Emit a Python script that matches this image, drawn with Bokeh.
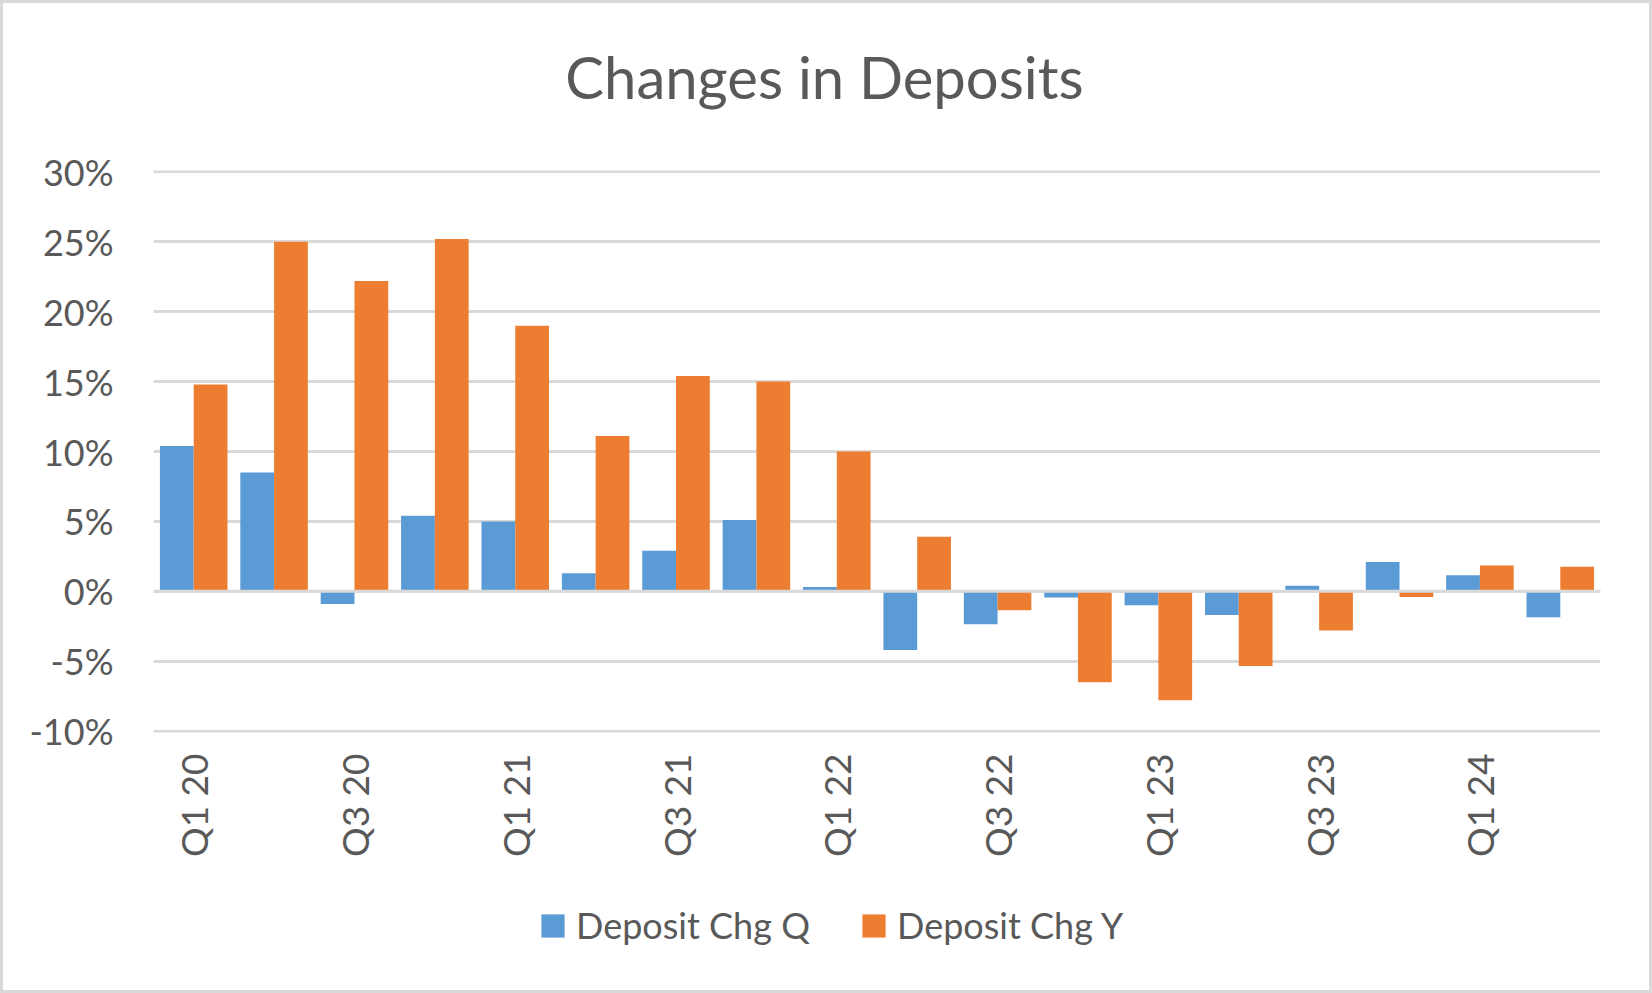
from bokeh.plotting import figure
from bokeh.models import (ColumnDataSource, Range1d, FixedTicker,
                          PrintfTickFormatter, Legend, LegendItem, Span, Label)
from bokeh.layouts import column
from bokeh.transform import dodge
from bokeh.embed import file_html
from bokeh.resources import INLINE
import math

# ---- data ----
quarters = ["Q1 20", "Q2 20", "Q3 20", "Q4 20", "Q1 21", "Q2 21", "Q3 21", "Q4 21",
            "Q1 22", "Q2 22", "Q3 22", "Q4 22", "Q1 23", "Q2 23", "Q3 23", "Q4 23",
            "Q1 24", "Q2 24"]
deposit_chg_q = [10.4, 8.5, -0.9, 5.4, 5.0, 1.3, 2.9, 5.1, 0.3, -4.2, -2.35, -0.45,
                 -1.0, -1.7, 0.4, 2.1, 1.15, -1.85]
deposit_chg_y = [14.8, 25.0, 22.2, 25.2, 19.0, 11.1, 15.4, 15.0, 10.0, 3.9, -1.35, -6.5,
                 -7.8, -5.35, -2.8, -0.4, 1.85, 1.75]
shown_labels = quarters[::2]
y_ticks = [-10, -5, 0, 5, 10, 15, 20, 25, 30]
title_text = "Changes in Deposits"
series_names = ["Deposit Chg Q", "Deposit Chg Y"]

BLUE = "#5B9BD5"
ORANGE = "#ED7D31"
TEXT = "#595959"
GRID = "#D9D9D9"
FONT = "Lato"
W = 1652

idx = list(range(len(quarters)))
src = ColumnDataSource(dict(i=idx, q=quarters, cq=deposit_chg_q, cy=deposit_chg_y))


def blank_figure(height):
    f = figure(width=W, height=height, x_range=Range1d(-0.5, len(quarters) - 0.5),
               y_range=Range1d(1000, 1001), output_backend="svg",
               toolbar_location=None, x_axis_location=None, y_axis_location=None,
               min_border=0)
    f.outline_line_color = None
    f.grid.visible = False
    f.border_fill_color = None
    f.background_fill_color = None
    return f


SIDE = "inset -3px 0 0 0 #D9D9D9"

# ---- title strip ----
TITLE_H = 146
t = blank_figure(TITLE_H)
t.styles = {"box-shadow": "inset 3px 3px 0 0 #D9D9D9, " + SIDE}
t.add_layout(Label(x=671, y=TITLE_H - 97 + 21, x_units="screen", y_units="screen",
                   text=title_text, text_align="center", text_baseline="alphabetic",
                   text_font=FONT, text_font_size="58px", text_color=TEXT))

# ---- main chart ----
MAIN_H = 734
p = figure(x_range=Range1d(-0.5, len(quarters) - 0.5), y_range=Range1d(-10.1, 30.1),
           width=W, height=MAIN_H, output_backend="svg", toolbar_location=None,
           min_border_left=153, min_border_right=52, min_border_top=24,
           min_border_bottom=148)
p.outline_line_color = None
p.border_fill_color = None
p.background_fill_color = "white"
p.styles = {"box-shadow": "inset 3px 0 0 0 #D9D9D9, " + SIDE}

r1 = p.vbar(x=dodge("i", -0.21), top="cq", bottom=0, width=0.42,
            source=src, fill_color=BLUE, line_color=None)
r2 = p.vbar(x=dodge("i", 0.21), top="cy", bottom=0, width=0.42,
            source=src, fill_color=ORANGE, line_color=None)

p.add_layout(Span(location=0, dimension="width", line_color=GRID, line_width=3,
                  level="overlay"))

p.xgrid.visible = False
p.ygrid.grid_line_color = GRID
p.ygrid.grid_line_width = 3

p.yaxis.ticker = FixedTicker(ticks=y_ticks)
p.yaxis.formatter = PrintfTickFormatter(format="%d%%")
p.xaxis.ticker = FixedTicker(ticks=[quarters.index(q) for q in shown_labels])
p.xaxis.major_label_overrides = {quarters.index(q): q for q in shown_labels}
for ax in (p.xaxis[0], p.yaxis[0]):
    ax.axis_line_color = None
    ax.major_tick_line_color = None
    ax.minor_tick_line_color = None
    ax.major_tick_out = 0
    ax.major_tick_in = 0
    ax.minor_tick_out = 0
    ax.minor_tick_in = 0
    ax.major_label_text_font = FONT
    ax.major_label_text_color = TEXT
p.yaxis.major_label_text_font_size = "36px"
p.xaxis.major_label_text_font_size = "37px"
p.yaxis.major_label_standoff = 40
p.xaxis.major_label_standoff = 21
p.xaxis.major_label_orientation = math.pi / 2

# ---- legend strip (series swatches come from the same data, off-view) ----
LEG_H = 113
lg = blank_figure(LEG_H)
lg.styles = {"box-shadow": "inset 3px -3px 0 0 #D9D9D9, " + SIDE}
g1 = lg.vbar(x=dodge("i", -0.21), top="cq", bottom=0, width=0.42, source=src,
             fill_color=BLUE, line_color=None)
g2 = lg.vbar(x=dodge("i", 0.21), top="cy", bottom=0, width=0.42, source=src,
             fill_color=ORANGE, line_color=None)
leg = Legend(items=[LegendItem(label=series_names[0], renderers=[g1]),
                    LegendItem(label=series_names[1], renderers=[g2])],
             location=(385, 46), orientation="horizontal", border_line_color=None,
             background_fill_alpha=0, padding=0, margin=0, spacing=33,
             label_width=250, glyph_width=29, glyph_height=29, label_standoff=9,
             label_text_font=FONT, label_text_font_size="36px", label_text_color=TEXT)
lg.add_layout(leg)

layout = column(t, p, lg, spacing=0)

open("out.html", "w").write(file_html(layout, INLINE))
